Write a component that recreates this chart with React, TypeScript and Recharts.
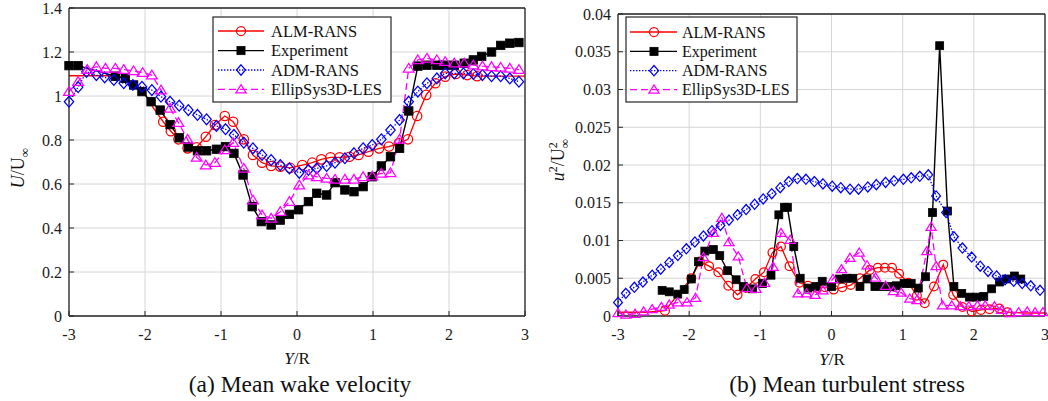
import React from 'react';
import { LineChart, Line, XAxis, YAxis, CartesianGrid } from 'recharts';

// ---------------- data ----------------
const xTicks = [-3, -2, -1, 0, 1, 2, 3];
const uTicks = [0, 0.2, 0.4, 0.6, 0.8, 1, 1.2, 1.4];
const sTicks = [0, 0.005, 0.01, 0.015, 0.02, 0.025, 0.03, 0.035, 0.04];
const seriesNames = ['ALM-RANS', 'Experiment', 'ADM-RANS', 'EllipSys3D-LES'];
const captions = ['(a) Mean wake velocity', '(b) Mean turbulent stress'];

// (a) mean wake velocity U/U∞ vs Y/R
const almU: [number, number][] = [
  [-3.0, 1.092], [-2.5, 1.092], [-2.3, 1.085], [-2.15, 1.06], [-2.02, 1.02], [-1.9, 0.95],
  [-1.76, 0.883], [-1.66, 0.84], [-1.56, 0.803], [-1.44, 0.762], [-1.32, 0.767], [-1.2, 0.815],
  [-1.08, 0.868], [-0.95, 0.909], [-0.84, 0.883], [-0.7, 0.803], [-0.58, 0.732], [-0.46, 0.697],
  [-0.34, 0.682], [-0.22, 0.679], [-0.09, 0.673], [0.07, 0.686], [0.2, 0.697], [0.32, 0.712],
  [0.44, 0.721], [0.56, 0.721], [0.69, 0.724], [0.81, 0.732], [0.94, 0.747], [1.08, 0.762],
  [1.21, 0.77], [1.34, 0.785], [1.46, 0.803], [1.58, 0.909], [1.7, 1.005], [1.82, 1.058],
  [1.95, 1.088], [2.09, 1.1], [2.24, 1.095], [2.37, 1.09], [2.6, 1.09], [3.0, 1.09],
];
const expU: [number, number][] = [
  [-3.0, 1.138], [-2.88, 1.138], [-2.39, 1.09], [-2.26, 1.08], [-2.15, 1.05], [-2.04, 1.02],
  [-1.92, 0.974], [-1.8, 0.936], [-1.67, 0.87], [-1.55, 0.81], [-1.43, 0.768], [-1.31, 0.751],
  [-1.19, 0.751], [-1.06, 0.758], [-0.94, 0.77], [-0.83, 0.739], [-0.71, 0.641], [-0.59, 0.497],
  [-0.47, 0.429], [-0.34, 0.414], [-0.22, 0.436], [-0.1, 0.462], [0.02, 0.483], [0.15, 0.52],
  [0.26, 0.558], [0.39, 0.55], [0.5, 0.606], [0.63, 0.573], [0.75, 0.565], [0.87, 0.588],
  [0.99, 0.633], [1.11, 0.682], [1.23, 0.724], [1.35, 0.762], [1.47, 0.932], [1.59, 1.136],
  [1.71, 1.14], [1.84, 1.14], [1.95, 1.14], [2.07, 1.14], [2.2, 1.149], [2.32, 1.164],
  [2.43, 1.18], [2.56, 1.2], [2.68, 1.23], [2.8, 1.24], [2.92, 1.243],
];
const admU: [number, number][] = [
  [-3.0, 0.974], [-2.88, 1.04], [-2.77, 1.11], [-2.64, 1.095], [-2.53, 1.085], [-2.41, 1.073],
  [-2.28, 1.058], [-2.16, 1.05], [-2.04, 1.042], [-1.91, 1.027], [-1.79, 0.997], [-1.67, 0.974],
  [-1.55, 0.956], [-1.43, 0.936], [-1.31, 0.914], [-1.19, 0.894], [-1.06, 0.864], [-0.94, 0.849],
  [-0.83, 0.823], [-0.7, 0.788], [-0.58, 0.762], [-0.46, 0.732], [-0.34, 0.709], [-0.22, 0.686],
  [-0.1, 0.671], [0.03, 0.651], [0.15, 0.664], [0.26, 0.671], [0.39, 0.682], [0.5, 0.697],
  [0.63, 0.717], [0.75, 0.74], [0.87, 0.762], [0.99, 0.777], [1.11, 0.803], [1.23, 0.845],
  [1.35, 0.891], [1.47, 0.974], [1.59, 1.02], [1.71, 1.058], [1.84, 1.08], [1.95, 1.103],
  [2.07, 1.103], [2.19, 1.103], [2.32, 1.1], [2.44, 1.095], [2.56, 1.09], [2.68, 1.09],
  [2.8, 1.08], [2.92, 1.065],
];
const lesU: [number, number][] = [
  [-3.0, 1.02], [-2.88, 1.065], [-2.76, 1.12], [-2.64, 1.133], [-2.52, 1.126], [-2.39, 1.126],
  [-2.28, 1.12], [-2.15, 1.114], [-2.03, 1.106], [-1.91, 1.095], [-1.79, 1.027], [-1.67, 0.944],
  [-1.56, 0.879], [-1.44, 0.803], [-1.32, 0.721], [-1.2, 0.686], [-1.08, 0.697], [-0.95, 0.755],
  [-0.84, 0.788], [-0.7, 0.671], [-0.58, 0.527], [-0.46, 0.459], [-0.34, 0.444], [-0.22, 0.474],
  [-0.1, 0.52], [0.03, 0.595], [0.15, 0.64], [0.26, 0.633], [0.39, 0.626], [0.5, 0.621],
  [0.63, 0.621], [0.75, 0.621], [0.87, 0.633], [0.99, 0.636], [1.11, 0.648], [1.23, 0.651],
  [1.35, 0.803], [1.47, 1.126], [1.59, 1.164], [1.71, 1.171], [1.84, 1.164], [1.95, 1.156],
  [2.07, 1.149], [2.2, 1.149], [2.32, 1.14], [2.44, 1.136], [2.56, 1.133], [2.68, 1.13],
  [2.8, 1.126], [2.92, 1.12],
];

// (b) mean turbulent stress u'^2/U∞^2 vs Y/R
const almS: [number, number][] = [
  [-3.0, 0.0005], [-2.6, 0.0005], [-2.34, 0.0007], [-1.97, 0.005], [-1.85, 0.0072], [-1.72, 0.0066],
  [-1.59, 0.0058], [-1.45, 0.004], [-1.32, 0.0028], [-1.2, 0.0037], [-1.07, 0.0049], [-0.95, 0.0058],
  [-0.83, 0.0084], [-0.71, 0.0092], [-0.59, 0.0066], [-0.45, 0.0044], [-0.33, 0.004], [-0.21, 0.0037],
  [-0.09, 0.0038], [0.03, 0.0035], [0.15, 0.0038], [0.27, 0.0041], [0.4, 0.005], [0.54, 0.0061],
  [0.65, 0.0064], [0.75, 0.0064], [0.85, 0.0064], [0.95, 0.0056], [1.08, 0.0044], [1.2, 0.0027],
  [1.31, 0.0017], [1.44, 0.0039], [1.57, 0.0068], [1.71, 0.0028], [1.84, 0.0012], [1.97, 0.0006],
  [2.1, 0.0008], [2.22, 0.0009], [2.36, 0.001], [2.47, 0.0005], [2.7, 0.0004], [3.0, 0.0004],
];
const expS: [number, number][] = [
  [-2.38, 0.0034], [-2.28, 0.0032], [-2.16, 0.0029], [-2.07, 0.0035], [-1.97, 0.0049], [-1.87, 0.0072],
  [-1.78, 0.0086], [-1.66, 0.0088], [-1.57, 0.008], [-1.46, 0.006], [-1.34, 0.0048], [-1.24, 0.0039],
  [-1.11, 0.0036], [-0.97, 0.0043], [-0.85, 0.0054], [-0.74, 0.0134], [-0.66, 0.0144], [-0.62, 0.0144],
  [-0.53, 0.0092], [-0.44, 0.005], [-0.33, 0.0037], [-0.22, 0.0039], [-0.13, 0.0046], [0.0, 0.0039],
  [0.11, 0.0049], [0.21, 0.005], [0.3, 0.005], [0.4, 0.0039], [0.5, 0.0049], [0.61, 0.0039],
  [0.72, 0.0039], [0.82, 0.0039], [0.91, 0.004], [1.02, 0.0043], [1.12, 0.0043], [1.22, 0.0037],
  [1.32, 0.0052], [1.42, 0.0137], [1.52, 0.0358], [1.63, 0.0139], [1.72, 0.0039], [1.83, 0.003],
  [1.94, 0.0025], [2.04, 0.0025], [2.14, 0.0026], [2.25, 0.0036], [2.36, 0.0045], [2.46, 0.0049],
  [2.57, 0.0053], [2.66, 0.0049],
];
const admS: [number, number][] = [
  [-3.0, 0.0018], [-2.89, 0.003], [-2.77, 0.0038], [-2.65, 0.0045], [-2.52, 0.0054], [-2.4, 0.0062],
  [-2.28, 0.0071], [-2.16, 0.008], [-2.04, 0.0089], [-1.92, 0.0098], [-1.8, 0.0106], [-1.68, 0.0113],
  [-1.56, 0.012], [-1.44, 0.0127], [-1.32, 0.0134], [-1.2, 0.0141], [-1.08, 0.0148], [-0.96, 0.0155],
  [-0.84, 0.0162], [-0.72, 0.017], [-0.6, 0.0178], [-0.48, 0.0182], [-0.36, 0.0181], [-0.24, 0.0178],
  [-0.12, 0.0175], [0.01, 0.0172], [0.13, 0.017], [0.26, 0.0168], [0.38, 0.0168], [0.51, 0.0171],
  [0.63, 0.0174], [0.76, 0.0177], [0.88, 0.0179], [1.01, 0.0181], [1.12, 0.0183], [1.24, 0.0185],
  [1.36, 0.0187], [1.47, 0.0159], [1.61, 0.0137], [1.72, 0.0105], [1.84, 0.009], [1.97, 0.0078],
  [2.09, 0.0066], [2.2, 0.0059], [2.32, 0.0053], [2.44, 0.0048], [2.56, 0.0046], [2.68, 0.0043],
  [2.8, 0.004], [2.93, 0.0034],
];
const lesS: [number, number][] = [
  [-3.0, 0.0004], [-2.89, 0.0002], [-2.76, 0.0003], [-2.64, 0.0006], [-2.52, 0.0009], [-2.39, 0.0012],
  [-2.28, 0.0015], [-2.16, 0.0018], [-2.03, 0.0018], [-1.91, 0.0024], [-1.8, 0.0078], [-1.66, 0.011],
  [-1.54, 0.013], [-1.44, 0.0098], [-1.31, 0.0079], [-1.19, 0.0037], [-1.06, 0.0036], [-0.94, 0.0044],
  [-0.82, 0.0065], [-0.71, 0.011], [-0.58, 0.0101], [-0.47, 0.003], [-0.35, 0.003], [-0.23, 0.0028],
  [-0.12, 0.0034], [0.02, 0.0049], [0.14, 0.0062], [0.26, 0.0077], [0.39, 0.0084], [0.5, 0.0067],
  [0.62, 0.0051], [0.76, 0.004], [0.87, 0.0033], [0.98, 0.0031], [1.1, 0.0023], [1.2, 0.0021],
  [1.34, 0.0086], [1.4, 0.0118], [1.47, 0.0066], [1.56, 0.0014], [1.69, 0.0014], [1.81, 0.0013],
  [1.93, 0.0013], [2.05, 0.0014], [2.16, 0.0014], [2.29, 0.0013], [2.39, 0.0008], [2.51, 0.0004],
  [2.63, 0.0005], [2.75, 0.0006], [2.86, 0.0005], [2.97, 0.0005],
];

// ---------------- styling ----------------
const FONT = '"Liberation Serif", "Times New Roman", Times, serif';
const AX = '#262626';
const GRID = '#d6d6d6';

type Kind = 'circle' | 'square' | 'diamond' | 'triangle';
type Style = { color: string; kind: Kind; dash?: string; width: number };
const styles: Style[] = [
  { color: '#ff0000', kind: 'circle', width: 1.3 },
  { color: '#000000', kind: 'square', width: 1.4 },
  { color: '#0000ff', kind: 'diamond', dash: '1.4 1.6', width: 1.3 },
  { color: '#ff00ff', kind: 'triangle', dash: '7 4', width: 1.3 },
];

function Marker({ kind, cx, cy, color, s }: { kind: Kind; cx: number; cy: number; color: string; s: number }) {
  const sw = 1.25;
  if (kind === 'circle') return <circle cx={cx} cy={cy} r={s} fill="none" stroke={color} strokeWidth={sw} />;
  if (kind === 'square')
    return <rect x={cx - s * 0.9} y={cy - s * 0.9} width={s * 1.8} height={s * 1.8} fill={color} stroke={color} strokeWidth={0.8} />;
  if (kind === 'diamond')
    return (
      <polygon
        points={`${cx},${cy - s * 1.15} ${cx + s},${cy} ${cx},${cy + s * 1.15} ${cx - s},${cy}`}
        fill="none" stroke={color} strokeWidth={sw}
      />
    );
  return (
    <polygon
      points={`${cx},${cy - s * 1.05} ${cx + s * 1.15},${cy + s * 0.8} ${cx - s * 1.15},${cy + s * 0.8}`}
      fill="none" stroke={color} strokeWidth={sw}
    />
  );
}

const makeDot = (st: Style, s: number, lead: number, tail: number, total: number) => (p: any) => {
  const k = `d-${p.index}`;
  if (p.cx == null || p.cy == null || p.index < lead || p.index >= total - tail) return <g key={k} />;
  return (
    <g key={k}>
      <Marker kind={st.kind} cx={p.cx} cy={p.cy} color={st.color} s={s} />
    </g>
  );
};

const toObj = (arr: [number, number][]) => arr.map(([x, y]) => ({ x, y }));

type PanelProps = {
  left: number;
  width: number;
  margin: { top: number; right: number; bottom: number; left: number };
  domain: [number, number];
  yTicks: number[];
  series: [number, number][][];
  plain: [number, number][];
  size: number;
};

function Panel({ left, width, margin, domain, yTicks, series, plain, size }: PanelProps) {
  const tickStyle = { fontSize: 16, fill: '#1a1a1a', fontFamily: FONT };
  const axisLine = { stroke: AX, strokeWidth: 1.3 };
  const tickLine = { stroke: AX, strokeWidth: 1 };
  return (
    <div style={{ position: 'absolute', left, top: 0, fontFamily: FONT }}>
      <LineChart width={width} height={401} margin={margin} style={{ fontFamily: FONT }}>
        <CartesianGrid stroke={GRID} strokeWidth={1} />
        <XAxis
          dataKey="x" type="number" domain={[-3, 3]} ticks={xTicks} interval={0} height={30}
          tickSize={-5} tickMargin={18} axisLine={axisLine} tickLine={tickLine} tick={tickStyle}
          tickFormatter={(v: number) => String(v)}
        />
        <XAxis
          xAxisId="top" orientation="top" dataKey="x" type="number" domain={[-3, 3]} ticks={xTicks}
          interval={0} height={1} tickSize={-5} axisLine={axisLine} tickLine={tickLine}
          tick={tickStyle} tickFormatter={() => ''}
        />
        <YAxis
          type="number" domain={domain} ticks={yTicks} interval={0} width={60} tickSize={-5}
          tickMargin={12} axisLine={axisLine} tickLine={tickLine} tick={tickStyle}
          tickFormatter={(v: number) => String(v)}
        />
        <YAxis
          yAxisId="right" orientation="right" type="number" domain={domain} ticks={yTicks} interval={0}
          width={1} tickSize={-5} axisLine={axisLine} tickLine={tickLine} tick={tickStyle}
          tickFormatter={() => ''}
        />
        {series.map((arr, i) => {
          const st = styles[i];
          return (
            <Line
              key={seriesNames[i]}
              name={seriesNames[i]}
              data={toObj(arr)}
              dataKey="y"
              type="linear"
              stroke={st.color}
              strokeWidth={st.width}
              strokeDasharray={st.dash}
              dot={makeDot(st, size, plain[i][0], plain[i][1], arr.length)}
              activeDot={false}
              isAnimationActive={false}
              legendType="none"
            />
          );
        })}
      </LineChart>
    </div>
  );
}

function LegendBox({ x, y, w, h, rows, lx0, lx1, mx, tx, fs }: {
  x: number; y: number; w: number; h: number; rows: number[]; lx0: number; lx1: number; mx: number; tx: number; fs: number;
}) {
  return (
    <g>
      <rect x={x} y={y} width={w} height={h} fill="#fff" stroke={AX} strokeWidth={1.2} />
      {seriesNames.map((n, i) => {
        const st = styles[i];
        const ry = rows[i];
        return (
          <g key={n}>
            <line x1={lx0} x2={lx1} y1={ry} y2={ry} stroke={st.color} strokeWidth={st.width} strokeDasharray={st.dash} />
            <Marker kind={st.kind} cx={mx} cy={ry} color={st.color} s={4.5} />
            <text x={tx} y={ry + 5.6} fontSize={fs} fontFamily={FONT} fill="#111">{n}</text>
          </g>
        );
      })}
    </g>
  );
}

export default function App() {
  return (
    <div style={{ position: 'absolute', left: 0, top: 0, width: 1048, height: 401, background: '#fff', overflow: 'hidden', fontFamily: FONT }}>
      <Panel
        left={0}
        width={540}
        margin={{ top: 7, right: 14, bottom: 55, left: 9 }}
        domain={[0, 1.4]}
        yTicks={uTicks}
        series={[almU, expU, admU, lesU]}
        plain={[[6, 2], [0, 0], [0, 0], [0, 0]]}
        size={4.7}
      />
      <Panel
        left={540}
        width={508}
        margin={{ top: 13, right: 2, bottom: 55, left: 18 }}
        domain={[0, 0.04]}
        yTicks={sTicks}
        series={[almS, expS, admS, lesS]}
        plain={[[2, 2], [0, 0], [0, 0], [0, 0]]}
        size={4.4}
      />
      <svg width={1048} height={401} style={{ position: 'absolute', left: 0, top: 0, pointerEvents: 'none' }}>
        <LegendBox x={213} y={17} w={178} h={85} rows={[31, 50.6, 70, 89.3]} lx0={218} lx1={264} mx={241} tx={271} fs={16.5} />
        <LegendBox x={626} y={17} w={171} h={85} rows={[32, 51.4, 70.7, 89.6]} lx0={630} lx1={677} mx={654} tx={682} fs={16} />

        {/* y axis titles */}
        <text transform="translate(23.5,168) rotate(-90)" textAnchor="middle" fontSize={18} fontFamily={FONT} fill="#111">
          <tspan fontStyle="italic">U</tspan>
          <tspan>/U</tspan>
          <tspan dy={5} fontSize={13}>∞</tspan>
        </text>
        <text transform="translate(564,160) rotate(-90)" textAnchor="middle" fontSize={18} fontFamily={FONT} fill="#111">
          <tspan fontStyle="italic">u</tspan>
          <tspan dy={-7} fontSize={12}>2</tspan>
          <tspan dy={7}>/U</tspan>
          <tspan dy={-7} fontSize={12}>2</tspan>
          <tspan dx={-6} dy={12} fontSize={13}>∞</tspan>
        </text>

        {/* x axis titles */}
        <text x={297} y={364} textAnchor="middle" fontSize={17} fontFamily={FONT} fill="#111">
          <tspan fontStyle="italic">Y</tspan>/R
        </text>
        <text x={832} y={365} textAnchor="middle" fontSize={17} fontFamily={FONT} fill="#111">
          <tspan fontStyle="italic">Y</tspan>/R
        </text>

        {/* captions */}
        <text x={300} y={392} textAnchor="middle" fontSize={23.5} fontFamily={FONT} fill="#111">{captions[0]}</text>
        <text x={847} y={392} textAnchor="middle" fontSize={23.5} fontFamily={FONT} fill="#111">{captions[1]}</text>
      </svg>
    </div>
  );
}
